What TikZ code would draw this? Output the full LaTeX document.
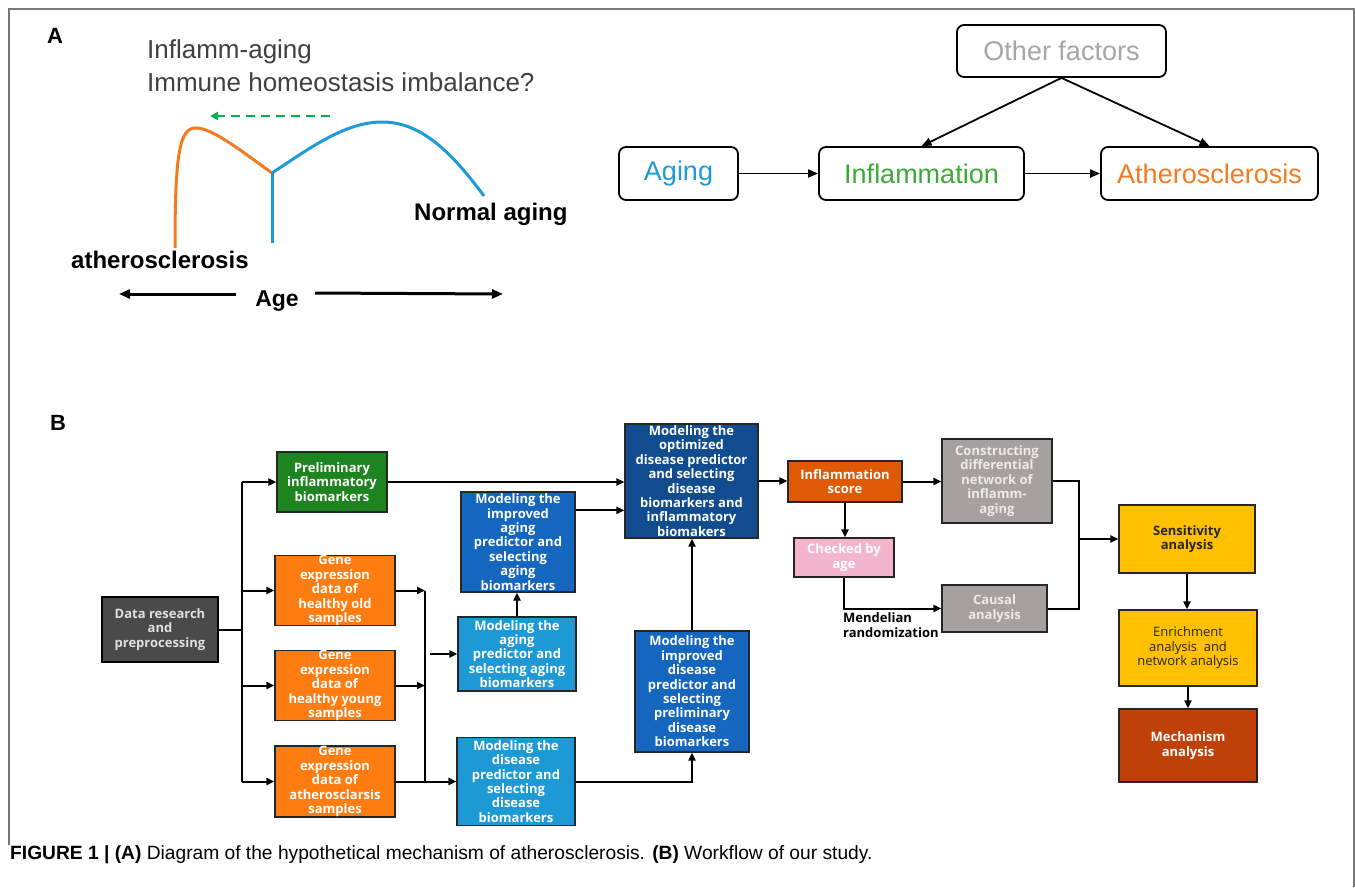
\documentclass[tikz,border=0pt]{standalone}
\usepackage{fontspec}
\setmainfont{Liberation Sans}
\newfontfamily\osans{Open Sans}
\usetikzlibrary{arrows.meta}
\definecolor{cOr}{HTML}{F47B20}
\definecolor{cBl}{HTML}{1E9BD7}
\definecolor{cGr}{HTML}{00B050}
\definecolor{cInfl}{HTML}{3DAA35}
\definecolor{cOther}{HTML}{A6A6A6}
\definecolor{cData}{HTML}{4A4A4A}
\definecolor{cPre}{HTML}{1E8420}
\definecolor{cGene}{HTML}{FF7C10}
\definecolor{cLB}{HTML}{1D9AD6}
\definecolor{cMB}{HTML}{1466BE}
\definecolor{cDB}{HTML}{114C8E}
\definecolor{cIS}{HTML}{E05A06}
\definecolor{cGray}{HTML}{A6A19F}
\definecolor{cPink}{HTML}{F2B5CB}
\definecolor{cYel}{HTML}{FFC000}
\definecolor{cMech}{HTML}{C0400A}
\definecolor{cFrame}{HTML}{777777}
\begin{document}
\begin{tikzpicture}[x=1pt,y=-1pt,
  fb/.style={draw=black!85, line width=1.3pt, inner sep=0pt, align=center, text=white,
    font=\osans\bfseries\fontsize{13}{14.4}\selectfont},
  arr/.style={-{Triangle[length=8pt,width=7pt]}, line width=2pt},
  conn/.style={line width=2pt},
  abox/.style={draw=black, line width=1.8pt, rounded corners=7pt, inner sep=0pt,
    font=\fontsize{27}{30}\selectfont},
  aarr/.style={-{Triangle[length=10pt,width=8pt]}, line width=1.8pt},
  bigarr/.style={-{Triangle[length=11pt,width=9pt]}, line width=3pt},
  blab/.style={font=\bfseries\fontsize{24}{28}\selectfont, text=black, inner sep=0pt},
  thin/.style={font=\fontsize{26}{30}\selectfont, text=black!75, inner sep=0pt},
  plab/.style={font=\bfseries\fontsize{22}{24}\selectfont, text=black, inner sep=0pt},
]
\useasboundingbox (0,0) rectangle (1355,887);
\fill[white] (0,0) rectangle (1355,887);
% frame
\draw[cFrame, line width=1.5pt] (9,845) -- (9,9) -- (1354,9) -- (1354,887);

% ---------- Panel A left ----------
\node[plab, anchor=base west] (labA) at (47,43) {A};
\node[thin, anchor=base west] (t1) at (147,58) {Inflamm-aging};
\node[thin, anchor=base west] (t2) at (147,91) {Immune homeostasis imbalance?};
\coordinate (gA) at (330,116);
\coordinate (gB) at (210,116);
\draw[cGr, line width=2.5pt, dash pattern=on 9pt off 6pt, -{Triangle[length=8pt,width=8pt]}] (gA) -- (gB);
\draw[cOr, line width=3pt] (175,248) .. controls (175,150) and (180,128) .. (196,128)
  .. controls (212,128) and (240,150) .. (272,173);
\draw[cBl, line width=3pt] (272,173) .. controls (310,148) and (345,122) .. (382,122)
  .. controls (420,122) and (450,150) .. (484,196);
\draw[cBl, line width=3pt] (272,173) -- (272,243);
\node[blab, anchor=base west] (normal) at (414,220) {Normal aging};
\node[blab, anchor=base west] (athl) at (71,268) {atherosclerosis};
\node[blab, anchor=base, font=\bfseries\fontsize{23}{26}\selectfont] (age) at (277,306) {Age};
\coordinate (aL1) at (236,294);
\coordinate (aL2) at (119,294);
\coordinate (aR1) at (315,293);
\coordinate (aR2) at (503,294);
\draw[bigarr] (aL1) -- (aL2);
\draw[bigarr] (aR1) -- (aR2);

% ---------- Panel A right ----------
\node[abox, minimum width=209pt, minimum height=52pt, text=cOther] (other) at (1061.5,51) {Other factors};
\node[abox, minimum width=119pt, minimum height=53pt, text=cBl] (aging) at (678.5,173.5) {Aging};
\node[abox, minimum width=205pt, minimum height=53pt, text=cInfl] (infl) at (921.5,173.5) {Inflammation};
\node[abox, minimum width=217pt, minimum height=53pt, text=cOr] (ath) at (1209.5,173.5) {Atherosclerosis};
\draw[aarr] (aging.east) -- (infl.west);
\draw[aarr] (infl.east) -- (ath.west);
\draw[aarr] (other.south) -- (infl.north);
\draw[aarr] (other.south) -- (ath.north);

% ---------- Panel B ----------
\node[plab, anchor=base west] (labB) at (50,430) {B};

\node[fb, fill=cData, draw=black, line width=2.4pt, text=white!88!black, minimum width=116pt, minimum height=65pt] (data) at (160,629.5) {Data research\\and\\preprocessing};
\node[fb, fill=cPre, minimum width=110pt, minimum height=60pt] (prelim) at (332,482) {Preliminary\\inflammatory\\biomarkers};
\node[fb, fill=cGene, minimum width=120pt, minimum height=69pt] (geneold) at (335,590.5) {Gene\\expression\\data of\\healthy old\\samples};
\node[fb, fill=cGene, minimum width=120pt, minimum height=67pt] (geneyoung) at (335,685.5) {Gene\\expression\\data of\\healthy young\\samples};
\node[fb, fill=cGene, minimum width=120pt, minimum height=71pt] (geneath) at (335,781.5) {Gene\\expression\\data of\\atherosclarsis\\samples};

\node[fb, fill=cLB, minimum width=118pt, minimum height=74pt] (magingp) at (517,654) {Modeling the\\aging\\predictor and\\selecting aging\\biomarkers};
\node[fb, fill=cMB, minimum width=114pt, minimum height=100pt] (mimpaging) at (518,542) {Modeling the\\improved\\aging\\predictor and\\selecting\\aging\\biomarkers};
\node[fb, fill=cLB, minimum width=118pt, minimum height=88pt] (mdis) at (516,781.5) {Modeling the\\disease\\predictor and\\selecting\\disease\\biomarkers};
\node[fb, fill=cMB, minimum width=114pt, minimum height=121pt] (mimpdis) at (692,691.5) {Modeling the\\improved\\disease\\predictor and\\selecting\\preliminary\\disease\\biomarkers};
\node[fb, fill=cDB, minimum width=133pt, minimum height=114pt] (mopt) at (691.5,481) {Modeling the\\optimized\\disease predictor\\and selecting\\disease\\biomarkers and\\inflammatory\\biomakers};

\node[fb, fill=cIS, minimum width=114pt, minimum height=41pt] (iscore) at (845,481.5) {Inflammation\\score};
\node[fb, fill=cGray, text=white!92!black, minimum width=110pt, minimum height=84pt] (constr) at (997,481) {Constructing\\differential\\network of\\inflamm-\\aging};
\node[fb, fill=cPink, minimum width=100pt, minimum height=39pt] (checked) at (844,557.5) {Checked by\\age};
\node[fb, fill=cGray, text=white!92!black, minimum width=105pt, minimum height=47pt] (causal) at (994.5,608.5) {Causal\\analysis};
\node[fb, fill=cYel, text=black!85, minimum width=136pt, minimum height=68pt] (sens) at (1187,539) {Sensitivity\\analysis};
\node[fb, fill=cYel, text=black!85, font=\osans\fontsize{13}{14.4}\selectfont, minimum width=138pt, minimum height=76pt] (enrich) at (1188,648) {Enrichment\\analysis~~and\\network analysis};
\node[fb, fill=cMech, minimum width=138pt, minimum height=73pt] (mech) at (1188,745.5) {Mechanism\\analysis};

\node[anchor=north west, align=left, inner sep=0pt, font=\osans\bfseries\fontsize{13}{15}\selectfont] (mend) at (843,612) {Mendelian\\randomization};

% connectors
\coordinate (trunk) at (242,0);
\coordinate (rt) at (425,0);
\coordinate (rj) at (1079,0);
\draw[conn] (data.east) -- (data.east -| trunk);
\draw[conn] (prelim.west -| trunk) -- (geneath.west -| trunk);
\draw[arr] (prelim.west -| trunk) -- (prelim.west);
\draw[arr] (geneold.west -| trunk) -- (geneold.west);
\draw[arr] (geneyoung.west -| trunk) -- (geneyoung.west);
\draw[arr] (geneath.west -| trunk) -- (geneath.west);

\draw[arr] (geneold.east) -- (geneold.east -| rt);
\draw[arr] (geneyoung.east) -- (geneyoung.east -| rt);
\draw[conn] (geneold.east -| rt) -- (geneath.east -| rt);
\draw[arr] (geneath.east) -- (mdis.west);
\draw[arr] ([xshift=5pt]magingp.west -| rt) -- (magingp.west);

\draw[arr] (magingp.north) -- (magingp.north |- mimpaging.south);
\draw[arr] ([yshift=-19pt]mimpaging.north east) -- ([yshift=-19pt]mimpaging.north east -| mopt.west);
\draw[arr] (prelim.east) -- (prelim.east -| mopt.west);
\draw[arr] (mdis.east) -| (mimpdis.south);
\draw[arr] (mimpdis.north) -- (mimpdis.north |- mopt.south);
\draw[arr] (mopt.east) -- (mopt.east -| iscore.west);
\draw[arr] (iscore.east) -- (iscore.east -| constr.west);
\draw[arr] (iscore.south) -- (iscore.south |- checked.north);
\draw[arr] (checked.south) |- (causal.west);
\draw[conn] (constr.east) -- (constr.east -| rj) -- (causal.east -| rj) -- (causal.east);
\draw[arr] (sens.west -| rj) -- (sens.west);
\draw[arr] (sens.south) -- (sens.south |- enrich.north);
\draw[arr] (enrich.south) -- (enrich.south |- mech.north);

% caption
\node[anchor=base west, inner sep=0pt, font=\fontsize{19.2}{22}\selectfont] (cap) at (10,859)
  {\textbf{FIGURE 1 | (A)} Diagram of the hypothetical mechanism of atherosclerosis. \textbf{(B)} Workflow of our study.};
\end{tikzpicture}
\end{document}
